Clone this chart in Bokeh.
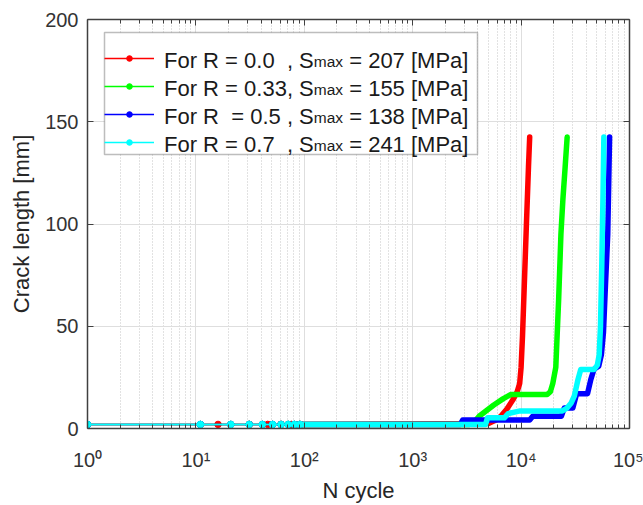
from bokeh.plotting import figure
from bokeh.models import (LogAxis, LinearAxis, FixedTicker, CustomJSTickFormatter,
                          Legend, LegendItem, Label, Range1d, BoxAnnotation)
from bokeh.embed import file_html
from bokeh.resources import INLINE

# ---------------- data ----------------
x_major = [1, 10, 100, 1000, 10000, 100000]
y_ticks = [0, 50, 100, 150, 200]

# early, separately visible markers (N cycles, crack length mm)
red_mark_n = [1, 16, 31, 46, 61, 76, 91]
red_mark_a = [2, 2, 2, 2, 2, 2, 2]
green_mark_n = [1, 11, 21, 31, 41, 51, 61, 71, 81, 91]
green_mark_a = [2, 2, 2, 2, 2, 2, 2, 2, 2, 2]
blue_mark_n = [1, 11, 21, 31, 41, 51, 61, 71, 81, 91]
blue_mark_a = [2, 2, 2, 2, 2, 2, 2, 2, 2, 2]
cyan_mark_n = [1, 11, 21, 31, 41, 51, 61, 71, 81, 91]
cyan_mark_a = [2, 2, 2, 2, 2, 2, 2, 2, 2, 2]

# dense part of each curve (markers merge into a band)
red_n = [91, 5000, 5800, 6500, 7400, 8400, 9200, 9700, 10000, 10300, 10700, 11200, 11700, 12000]
red_a = [2, 2.5, 4, 6, 9.5, 14, 18, 22, 30, 45, 70, 100, 128, 142.5]

green_n = [91, 3300, 3700, 4100, 5600, 6800, 8000, 17400, 18600, 19600, 20900, 22200, 23300, 24300, 25500, 26600]
green_a = [2, 2, 3.2, 6, 11.5, 14.5, 16.6, 16.6, 18, 22, 30, 63, 95, 112, 128, 142.5]

blue_n = [91, 2750, 2900, 12000, 12800, 23500, 25000, 30000, 32500, 41000, 44000, 47000, 52000, 55000, 57500, 60000, 63000, 65500]
blue_a = [2, 2, 4.2, 4.2, 6, 6, 10, 10, 17, 17, 24, 29, 30.5, 36, 47, 70, 95, 142.5]

cyan_n = [91, 4700, 4900, 7000, 7600, 9800, 24000, 26500, 29000, 31000, 33500, 35500, 47000, 50500, 52500, 54000, 55500, 57000, 58000]
cyan_a = [2, 2, 5.2, 5.2, 7.3, 8.6, 8.6, 10, 12.5, 16, 24, 28.8, 28.8, 31, 36, 50, 80, 115, 142.5]

series = [
    ("#ff0000", red_mark_n, red_mark_a, red_n, red_a),
    ("#00ff00", green_mark_n, green_mark_a, green_n, green_a),
    ("#0000ff", blue_mark_n, blue_mark_a, blue_n, blue_a),
    ("#00ffff", cyan_mark_n, cyan_mark_a, cyan_n, cyan_a),
]

legend_rows = [
    ("For R = 0.0  , S", "max", " = 207 [MPa]"),
    ("For R = 0.33, S", "max", " = 155 [MPa]"),
    ("For R  = 0.5 , S", "max", " = 138 [MPa]"),
    ("For R = 0.7  , S", "max", " = 241 [MPa]"),
]

# ---------------- figure ----------------
FONT = "Liberation Sans"
AX = "#404040"
TXT = "#333333"

p = figure(width=643, height=505, x_axis_type="log",
           x_range=Range1d(1, 100000), y_range=Range1d(0, 200),
           output_backend="svg", toolbar_location=None,
           min_border_left=87, min_border_right=14, min_border_top=19, min_border_bottom=76)
p.background_fill_color = "white"
p.border_fill_color = "white"
p.outline_line_color = None

x_minor = [m * d for d in x_major[:-1] for m in range(2, 10)]
xt = FixedTicker(ticks=x_major, minor_ticks=x_minor)
yt = FixedTicker(ticks=y_ticks)
fmt = CustomJSTickFormatter(code="""
const sup = {'0':'\u2070','1':'\u00b9','2':'\u00b2','3':'\u00b3','4':'\u2074','5':'\u2075','6':'\u2076','7':'\u2077','8':'\u2078','9':'\u2079','-':'\u207b'};
const e = Math.round(Math.log10(tick));
return '10' + String(e).split('').map(c => sup[c]).join('');
""")

xa = p.below[0]
xa.ticker = xt
xa.formatter = fmt
ya = p.left[0]
ya.ticker = yt

for ax in (xa, ya):
    ax.axis_line_color = AX
    ax.axis_line_width = 1.5
    ax.major_tick_line_color = AX
    ax.minor_tick_line_color = AX
    ax.major_tick_in = 6
    ax.major_tick_out = 0
    ax.minor_tick_in = 4
    ax.minor_tick_out = 0
    ax.major_label_text_font = FONT
    ax.major_label_text_font_size = "20px"
    ax.major_label_text_color = TXT
    ax.axis_label_text_font = FONT
    ax.axis_label_text_font_size = "22px"
    ax.axis_label_text_font_style = "normal"
    ax.axis_label_text_color = "#262626"
ya.minor_tick_in = 0
xa.axis_label = "N cycle"
ya.axis_label = "Crack length [mm]"
xa.major_label_standoff = 20
xa.axis_label_standoff = 4
ya.major_label_standoff = 9
ya.axis_label_standoff = 8

p.xgrid.ticker = xt
p.ygrid.ticker = yt
p.xgrid.grid_line_color = "#dedede"
p.xgrid.grid_line_width = 1
p.xgrid.minor_grid_line_color = "#c4c4c4"
p.xgrid.minor_grid_line_dash = "1 2"
p.ygrid.grid_line_color = "#dedede"
p.ygrid.grid_line_width = 1

blank = CustomJSTickFormatter(code="return ' ';")
top = LogAxis(ticker=xt, formatter=blank, major_label_text_font_size="1px",
              major_label_text_alpha=0, major_label_standoff=0,
              major_tick_in=6, major_tick_out=0, minor_tick_in=4, minor_tick_out=0,
              axis_line_color=AX, axis_line_width=1.5,
              major_tick_line_color=AX, minor_tick_line_color=AX)
right = LinearAxis(ticker=yt, formatter=blank, major_label_text_font_size="1px",
                   major_label_text_alpha=0, major_label_standoff=0,
                   major_tick_in=6, major_tick_out=0, minor_tick_in=0, minor_tick_out=0,
                   axis_line_color=AX, axis_line_width=1.5, major_tick_line_color=AX)
p.add_layout(top, "above")
p.add_layout(right, "right")

# ---------------- legend frame (white box behind the legend) ----------------
box = BoxAnnotation(left=104 - 87, right=477 - 87, top=429 - 33, bottom=429 - 155,
                    left_units="screen", right_units="screen",
                    top_units="screen", bottom_units="screen",
                    fill_color="white", fill_alpha=1.0,
                    line_color="#262626", line_width=1.5, level="annotation")
p.add_layout(box)

# ---------------- curves ----------------
items = []
for color, mn, ma, cn, ca in series:
    thin = p.line(mn + cn[1:], ma + ca[1:], line_color=color, line_width=1.5)
    p.line(cn, ca, line_color=color, line_width=5.5, line_join="round", line_cap="round")
    dots = p.scatter(mn, ma, marker="circle", size=6.5, fill_color=color, line_color=color)
    items.append(LegendItem(label="\u00a0", renderers=[thin, dots]))

legend = Legend(items=items, location=(17, 272), orientation="vertical",
                glyph_width=50, glyph_height=14, label_height=28, label_width=308,
                label_standoff=5, padding=5, spacing=0, margin=0,
                label_text_font_size="10px",
                border_line_color=None, background_fill_alpha=0.0)
p.add_layout(legend, "center")

# legend texts with the smaller "max"
ARIAL = {' ': 278, '\u00a0': 278, 'F': 611, 'o': 556, 'r': 333, 'R': 722, '=': 584,
         '.': 278, ',': 278, 'S': 667, 'm': 833, 'a': 556, 'x': 500, '[': 278,
         ']': 278, 'M': 833, 'P': 667}
for d in "0123456789":
    ARIAL[d] = 556


def text_width(s, size):
    return sum(ARIAL.get(c, 556) for c in s) * size / 1000.0


MAIN = 22
SUB = 15.5
x0 = 163.5 - 87          # frame-relative screen x
baselines = [60.5, 88.5, 116.5, 144.5]
for (a, b, c), yb in zip(legend_rows, baselines):
    a2, c2 = a.replace(" ", "\u00a0"), c.replace(" ", "\u00a0")
    xb = x0 + text_width(a, MAIN)
    xc = xb + text_width(b, SUB)
    for txt, xx, fs, dy in ((a2, x0, MAIN, 0), (b, xb, SUB, 1), (c2, xc, MAIN, 0)):
        p.add_layout(Label(x=xx, y=429 - yb - dy, x_units="screen", y_units="screen",
                           text=txt, text_font=FONT, text_font_size=f"{fs}px",
                           text_color="#1a1a1a", text_baseline="alphabetic",
                           text_align="left", level="overlay"))

open("out.html", "w").write(file_html(p, INLINE))
